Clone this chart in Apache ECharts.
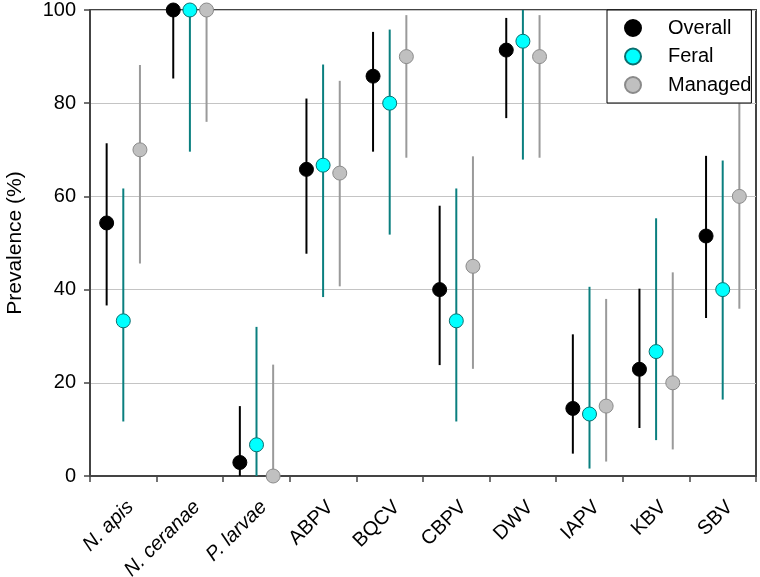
<!DOCTYPE html>
<html>
<head>
<meta charset="utf-8">
<script src="https://cdn.jsdelivr.net/npm/echarts@6/dist/echarts.min.js"></script>
<style>
  html, body {margin: 0; padding: 0; background: #fff;}
  #chart {width: 760px; height: 577px;}
</style>
</head>
<body>
<div id="chart"></div>
<script>
const categories = ['N. apis', 'N. ceranae', 'P. larvae', 'ABPV', 'BQCV', 'CBPV', 'DWV', 'IAPV', 'KBV', 'SBV'];
const italicCats = ['N. apis', 'N. ceranae', 'P. larvae'];
const yTicks = [0, 20, 40, 60, 80, 100];

const overallValue = [54.3, 100, 2.9, 65.8, 85.8, 40, 91.4, 14.5, 22.9, 51.5];
const overallLow = [36.6, 85.3, 0, 47.7, 69.6, 23.8, 76.8, 4.8, 10.3, 33.9];
const overallHigh = [71.4, 100, 15, 81, 95.3, 58, 98.3, 30.4, 40.2, 68.7];

const feralValue = [33.3, 100, 6.7, 66.7, 80, 33.3, 93.3, 13.3, 26.7, 40];
const feralLow = [11.7, 69.6, 0, 38.4, 51.8, 11.7, 67.9, 1.6, 7.7, 16.4];
const feralHigh = [61.7, 100, 32, 88.3, 95.8, 61.7, 100, 40.6, 55.3, 67.7];

const managedValue = [70, 100, 0, 65, 90, 45, 90, 15, 20, 60];
const managedLow = [45.6, 76, 0, 40.7, 68.3, 23, 68.3, 3.1, 5.7, 35.9];
const managedHigh = [88.2, 100, 23.9, 84.8, 98.9, 68.6, 98.9, 38, 43.7, 80.9];

const FONT = 'Liberation Sans, Arial, sans-serif';
const BAND = 66.6; // pixel width of one category

var myChart = echarts.init(document.getElementById('chart'));

// vertical interval line, shifted inside the category band
function errorSeries(name, low, high, shift, color) {
    return {
        name: name + ' CI',
        type: 'custom',
        z: 1,
        silent: true,
        renderItem: function (params, api) {
            var i = api.value(0);
            var off = api.size([1, 0])[0] * shift;
            var p1 = api.coord([i, api.value(1)]);
            var p2 = api.coord([i, api.value(2)]);
            return {
                type: 'line',
                shape: {x1: p1[0] + off, y1: p1[1], x2: p2[0] + off, y2: p2[1]},
                style: {stroke: color, lineWidth: 2}
            };
        },
        data: categories.map(function (c, i) { return [i, low[i], high[i]]; })
    };
}

function pointSeries(name, values, shift, fill, border) {
    return {
        name: name,
        type: 'scatter',
        z: 3,
        clip: false,
        symbol: 'circle',
        symbolSize: 14,
        symbolOffset: [BAND * shift, 0],
        itemStyle: {color: fill, borderColor: border, borderWidth: 1, opacity: 1},
        data: values
    };
}

myChart.setOption({
    animation: false,
    grid: {
        left: 90, right: 4, top: 10, bottom: 101,
        outerBoundsMode: 'none',
        containLabel: false,
        show: true, borderColor: '#444', borderWidth: 2, backgroundColor: 'transparent'
    },
    legend: {
        orient: 'vertical',
        left: 607, top: 10,
        padding: [8, 0, 8, 17],
        itemWidth: 16, itemHeight: 16, itemGap: 8.5,
        backgroundColor: '#fff',
        borderColor: '#000', borderWidth: 1,
        textStyle: {fontFamily: FONT, fontSize: 20, lineHeight: 16, color: '#000', padding: [0, 0, 0, 22]},
        data: ['Overall', 'Feral', 'Managed']
    },
    xAxis: {
        type: 'category',
        data: categories,
        boundaryGap: true,
        axisLine: {lineStyle: {color: '#444', width: 2}},
        axisTick: {show: true, inside: false, length: 6, lineStyle: {color: '#444', width: 1.5}},
        splitLine: {show: false},
        axisLabel: {
            rotate: 45,
            margin: 21,
            interval: 0,
            verticalAlign: 'top',
            fontFamily: FONT, fontSize: 20, color: '#000',
            formatter: function (v) {
                return italicCats.indexOf(v) >= 0 ? '{i|' + v + '}' : v;
            },
            rich: {i: {fontStyle: 'italic', fontFamily: FONT, fontSize: 20, color: '#000'}}
        }
    },
    yAxis: {
        type: 'value',
        min: yTicks[0], max: yTicks[yTicks.length - 1], interval: 20,
        name: 'Prevalence (%)',
        nameLocation: 'middle',
        nameRotate: 90,
        nameGap: 64,
        nameTextStyle: {fontFamily: FONT, fontSize: 21, color: '#000'},
        axisLine: {show: true, lineStyle: {color: '#444', width: 2}},
        axisTick: {show: true, inside: false, length: 6, lineStyle: {color: '#444', width: 1.5}},
        splitLine: {show: true, lineStyle: {color: '#c4c4c4', width: 1}},
        axisLabel: {margin: 14, fontFamily: FONT, fontSize: 20, color: '#000'}
    },
    series: [
        errorSeries('Overall', overallLow, overallHigh, -0.25, '#000'),
        errorSeries('Feral', feralLow, feralHigh, 0, '#0a7f7f'),
        errorSeries('Managed', managedLow, managedHigh, 0.25, '#9a9a9a'),
        pointSeries('Overall', overallValue, -0.25, '#000', '#000'),
        pointSeries('Feral', feralValue, 0, '#00ffff', '#0a6f6f'),
        pointSeries('Managed', managedValue, 0.25, '#c0c0c0', '#8a8a8a')
    ]
});
</script>
</body>
</html>
